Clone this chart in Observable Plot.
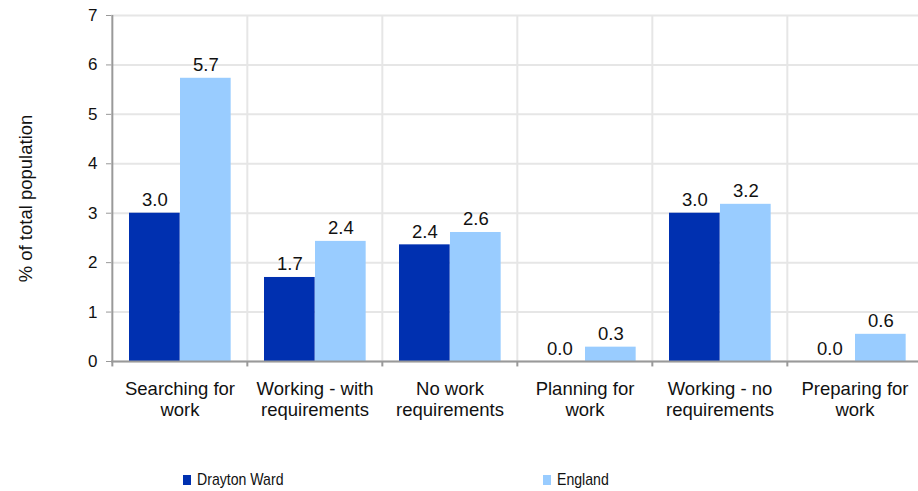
<!DOCTYPE html>
<html>
<head>
<meta charset="utf-8">
<script src="https://cdn.jsdelivr.net/npm/d3@7"></script>
<script src="https://cdn.jsdelivr.net/npm/@observablehq/plot@0.6"></script>
<style>
  body { margin: 0; background: #fff; font-family: "Liberation Sans", Arial, sans-serif; }
  #legend { position: relative; width: 918px; height: 41px; font-size: 17px; color: #111; }
  .item { position: absolute; top: 20px; display: flex; align-items: center; }
  .sw { width: 8px; height: 10px; margin-right: 6px; }
  .lt { display: inline-block; transform: scaleX(0.83); transform-origin: left center; white-space: nowrap; }
</style>
</head>
<body>
<div id="chart"></div>
<div id="legend"></div>
<script>
const categories = ["Searching for work", "Working - with requirements", "No work requirements", "Planning for work", "Working - no requirements", "Preparing for work"];
const categoryLabels = ["Searching for\nwork", "Working - with\nrequirements", "No work\nrequirements", "Planning for\nwork", "Working - no\nrequirements", "Preparing for\nwork"];
const seriesNames = ["Drayton Ward", "England"];
const draytonValues = [3.0, 1.7, 2.36, 0.0, 3.0, 0.0];
const englandValues = [5.73, 2.43, 2.61, 0.29, 3.18, 0.55];
const yTicks = [0, 1, 2, 3, 4, 5, 6, 7];
const colors = ["#0030B0", "#99CCFF"];

const W = 918, H = 450;
const left = 111, right = 923;
const step = (right - left) / categories.length;
const barW = 51;
const off0 = 17;
const c0 = off0 + barW / 2 - step / 2;
const c1 = off0 + barW * 1.5 - step / 2;

const dray = categories.map((c, i) => ({cat: c, value: draytonValues[i]}));
const eng = categories.map((c, i) => ({cat: c, value: englandValues[i]}));
const labels = categories.map((c, i) => ({cat: c, label: categoryLabels[i]}));
const fmt = d3.format(".1f");

const chart = Plot.plot({
  width: W,
  height: H,
  marginTop: 15,
  marginBottom: 89,
  marginLeft: left,
  marginRight: 0,
  style: {fontFamily: "Liberation Sans, Arial, sans-serif", fontSize: "17px", color: "#999", background: "#fff"},
  x: {domain: categories, range: [left, right], padding: 0, axis: null},
  y: {domain: [0, 7], ticks: yTicks, tickSize: 5, tickPadding: 7, label: null, tickFormat: () => ""},
  marks: [
    Plot.ruleY(yTicks, {stroke: "#e6e6e6", strokeWidth: 2}),
    Plot.ruleX(categories.slice(1), {x: d => d, dx: -step / 2, stroke: "#e6e6e6", strokeWidth: 2}),
    Plot.barY(dray, {x: "cat", y: "value", fill: colors[0], insetLeft: off0, insetRight: step - off0 - barW}),
    Plot.barY(eng, {x: "cat", y: "value", fill: colors[1], insetLeft: off0 + barW, insetRight: step - off0 - 2 * barW}),
    Plot.text(dray, {x: "cat", y: "value", text: d => fmt(d.value), dx: c0, dy: -7, lineAnchor: "bottom", fontSize: 18.5, fill: "#111"}),
    Plot.text(eng, {x: "cat", y: "value", text: d => fmt(d.value), dx: c1, dy: -7, lineAnchor: "bottom", fontSize: 18.5, fill: "#111"}),
    Plot.ruleY([0], {stroke: "#999", strokeWidth: 2}),
    Plot.ruleX(categories.slice(0, 1), {x: d => d, dx: -step / 2, y1: 0, y2: 7, stroke: "#999", strokeWidth: 2}),
    Plot.ruleX(categories, {x: d => d, dx: -step / 2, y1: 0, y2: -0.11, stroke: "#999", strokeWidth: 2}),
    Plot.text(yTicks, {y: d => d, text: d => String(d), frameAnchor: "left", textAnchor: "end", dx: -14, fontSize: 17, fill: "#111"}),
    Plot.text(labels, {x: "cat", text: "label", frameAnchor: "bottom", lineAnchor: "top", dy: 18, lineHeight: 1.15, fontSize: 18.5, fill: "#111"}),
    Plot.text(["% of total population"], {frameAnchor: "left", textAnchor: "middle", rotate: -90, dx: -85, dy: 10, fontSize: 18.5, fill: "#111"})
  ]
});
document.getElementById("chart").appendChild(chart);

const legend = document.getElementById("legend");
const legendX = [183, 543];
seriesNames.forEach((s, i) => {
  const item = document.createElement("div");
  item.className = "item";
  item.style.left = legendX[i] + "px";
  item.innerHTML = `<span class="sw" style="background:${colors[i]}"></span><span class="lt">${s}</span>`;
  legend.appendChild(item);
});
</script>
</body>
</html>
